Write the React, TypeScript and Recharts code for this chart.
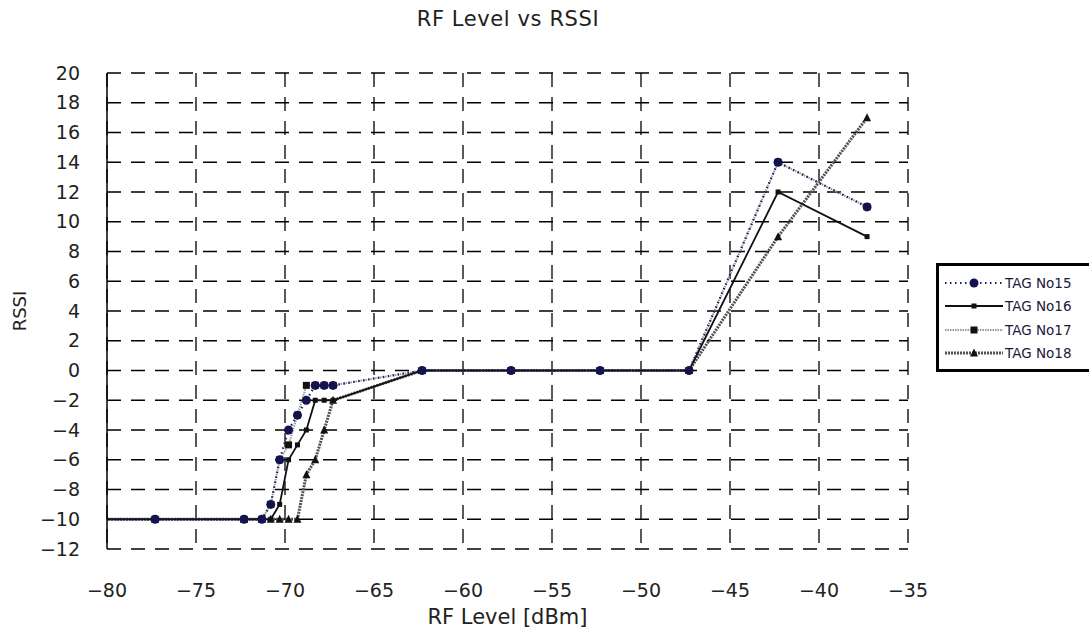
import { CartesianGrid, Label, Line, LineChart, XAxis, YAxis } from "recharts"

const rfLevels = [
  -82.3, -77.3, -72.3, -71.3, -70.8, -70.3, -69.8, -69.3, -68.8, -68.3, -67.8,
  -67.3, -62.3, -57.3, -52.3, -47.3, -42.3, -37.3,
]
const tag15 = [-10, -10, -10, -10, -9, -6, -4, -3, -2, -1, -1, -1, 0, 0, 0, 0, 14, 11]
const tag16 = [-10, -10, -10, -10, -10, -9, -6, -5, -4, -2, -2, -2, 0, 0, 0, 0, 12, 9]
const tag17 = [-10, -10, -10, -10, -9, -6, -5, -3, -1, -1, -1, -1, 0, 0, 0, 0, 14, 11]
const tag18 = [-10, -10, -10, -10, -10, -10, -10, -10, -7, -6, -4, -2, 0, 0, 0, 0, 9, 17]

const xTicks = [-80, -75, -70, -65, -60, -55, -50, -45, -40, -35]
const yTicks = [-12, -10, -8, -6, -4, -2, 0, 2, 4, 6, 8, 10, 12, 14, 16, 18, 20]

type MarkerShape = "circle" | "dot" | "square" | "triangle"

type Series = {
  key: string
  name: string
  stroke: string
  width: number
  dash?: string
  marker: MarkerShape
}

// drawn bottom to top, TAG No15 ends up on top like in the original
const seriesList: Series[] = [
  { key: "tag18", name: "TAG No18", stroke: "#505050", width: 3, dash: "2 1", marker: "triangle" },
  { key: "tag17", name: "TAG No17", stroke: "#9a9a9a", width: 2, dash: "1.5 1", marker: "square" },
  { key: "tag16", name: "TAG No16", stroke: "#111111", width: 1.8, marker: "dot" },
  { key: "tag15", name: "TAG No15", stroke: "#1c1c5c", width: 2.2, dash: "1.5 3.5", marker: "circle" },
]
const legendOrder = ["tag15", "tag16", "tag17", "tag18"]

const rows = rfLevels.map((rf, i) => ({
  rf,
  tag15: tag15[i],
  tag16: tag16[i],
  tag17: tag17[i],
  tag18: tag18[i],
}))

const font = '"DejaVu Sans", "Noto Sans", sans-serif'
const minus = (v: number) => String(v).replace("-", "\u2212")

function Marker({ shape, cx, cy }: { shape: MarkerShape; cx: number; cy: number }) {
  if (cx == null || cy == null) return null
  if (shape === "circle") return <circle cx={cx} cy={cy} r={4.5} fill="#13134f" />
  if (shape === "dot") return <rect x={cx - 2.5} y={cy - 2.5} width={5} height={5} fill="#111" />
  if (shape === "square") return <rect x={cx - 3.5} y={cy - 3.5} width={7} height={7} fill="#111" />
  return (
    <polygon
      points={`${cx},${cy - 4.5} ${cx + 4},${cy + 3.5} ${cx - 4},${cy + 3.5}`}
      fill="#111"
    />
  )
}

function LegendBox() {
  return (
    <div
      style={{
        position: "absolute",
        left: 936,
        top: 263,
        width: 145,
        height: 98,
        border: "3px solid #000",
        background: "#fff",
        padding: "5px 0 0 6px",
        boxSizing: "content-box",
      }}
    >
      {legendOrder.map((key) => {
        const s = seriesList.find((item) => item.key === key)!
        return (
          <div key={key} style={{ display: "flex", alignItems: "center", height: 23.5 }}>
            <svg width={58} height={14}>
              <line
                x1={0}
                x2={58}
                y1={7}
                y2={7}
                stroke={s.stroke}
                strokeWidth={s.width}
                strokeDasharray={s.dash}
              />
              <Marker shape={s.marker} cx={29} cy={7} />
            </svg>
            <span
              style={{
                fontFamily: font,
                fontSize: 13.5,
                color: "#1a1a3a",
                marginLeft: 2,
                lineHeight: "14px",
              }}
            >
              {s.name}
            </span>
          </div>
        )
      })}
    </div>
  )
}

export default function App() {
  return (
    <div
      style={{
        position: "absolute",
        left: 0,
        top: 0,
        width: 1089,
        height: 639,
        background: "#fff",
      }}
    >
      <div
        style={{
          position: "absolute",
          left: 0,
          width: 1016,
          top: 7,
          textAlign: "center",
          fontFamily: font,
          fontSize: 21,
          letterSpacing: 0.6,
          color: "#222",
        }}
      >
        RF Level vs RSSI
      </div>
      <LineChart
        width={1089}
        height={639}
        data={rows}
        margin={{ top: 73, right: 181, bottom: 5, left: 0 }}
      >
        <CartesianGrid
          stroke="#000"
          strokeWidth={1.3}
          strokeDasharray="14 10"
          horizontalValues={yTicks}
          verticalValues={xTicks}
        />
        <XAxis
          dataKey="rf"
          type="number"
          domain={[-80, -35]}
          ticks={xTicks}
          allowDataOverflow
          axisLine={false}
          tickLine={false}
          tickSize={6}
          tickMargin={29}
          height={85}
          tickFormatter={minus}
          tick={{ fontFamily: font, fontSize: 19, fill: "#222" }}
        >
          <Label
            value="RF Level [dBm]"
            position="insideBottom"
            offset={10}
            style={{ fontFamily: font, fontSize: 21, fill: "#222" }}
          />
        </XAxis>
        <YAxis
          type="number"
          domain={[-12, 20]}
          ticks={yTicks}
          interval={0}
          allowDataOverflow
          width={107}
          axisLine={{ stroke: "#000", strokeWidth: 1.5 }}
          tickLine={false}
          tickSize={6}
          tickMargin={21}
          tickFormatter={minus}
          tick={{ fontFamily: font, fontSize: 19, fill: "#222" }}
        >
          <Label
            value="RSSI"
            angle={-90}
            position="insideLeft"
            offset={20}
            style={{ fontFamily: font, fontSize: 18, fill: "#222", textAnchor: "middle" }}
          />
        </YAxis>
        {seriesList.map((s) => (
          <Line
            key={s.key}
            dataKey={s.key}
            name={s.name}
            type="linear"
            stroke={s.stroke}
            strokeWidth={s.width}
            strokeDasharray={s.dash}
            isAnimationActive={false}
            activeDot={false}
            dot={(props: any) => (
              <Marker
                key={`${s.key}-${props.index}`}
                shape={s.marker}
                cx={props.cx}
                cy={props.cy}
              />
            )}
          />
        ))}
      </LineChart>
      <LegendBox />
    </div>
  )
}
